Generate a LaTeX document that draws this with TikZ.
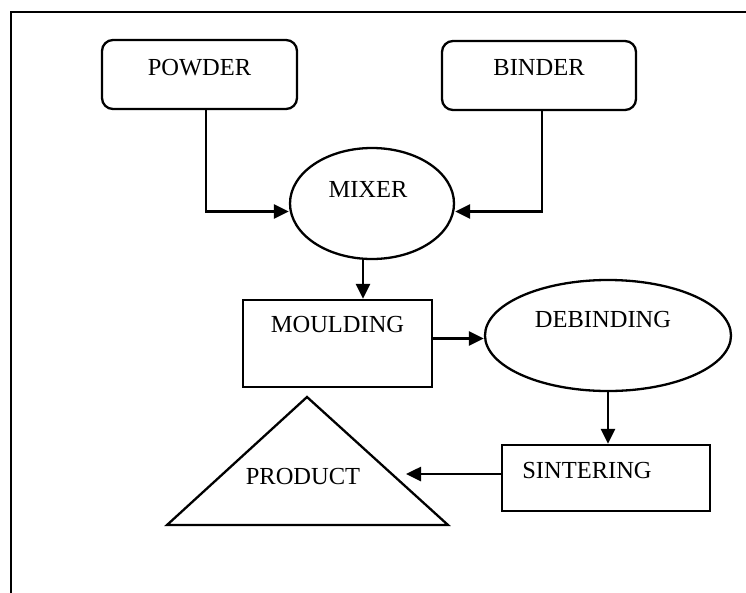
\documentclass[tikz,border=0pt]{standalone}
\usepackage{fontspec}
\setmainfont{Liberation Serif}
\usetikzlibrary{shapes.geometric,arrows.meta}
\begin{document}
\begin{tikzpicture}[x=1pt,y=-1pt,
  line width=2.3pt,
  lbl/.style={inner sep=0pt,font=\fontsize{24.5}{28}\selectfont},
  roundbox/.style={draw,rounded corners=11pt,inner sep=0pt},
  plainbox/.style={draw,rectangle,inner sep=0pt},
  oval/.style={draw,ellipse,inner sep=0pt},
  arr/.style={line width=2.6pt,-{Triangle[length=15pt,width=14pt]},line join=miter}]
\useasboundingbox (0,0) rectangle (746,592);
% outer frame (only the left and top edges fall inside the page)
\draw[line join=miter,line width=2.4pt] (11,600) -- (11,12) -- (750,12);

% shapes
\node[roundbox,minimum width=195pt,minimum height=69pt] (powder) at (199.5,74.5) {};
\node[roundbox,minimum width=194pt,minimum height=69pt] (binder) at (539,75.5) {};
\node[oval,minimum width=164pt,minimum height=111pt] (mixer) at (372,203.5) {};
\node[plainbox,minimum width=189pt,minimum height=87pt] (moulding) at (337.5,343.5) {};
\node[oval,minimum width=246pt,minimum height=111pt] (debinding) at (608,335.5) {};
\node[plainbox,minimum width=208pt,minimum height=66pt] (sinter) at (606,478) {};
\coordinate (apex) at (307,397);
\coordinate (baseL) at (167,525);
\coordinate (baseR) at (448,525);
\draw[line join=miter] (apex) -- (baseR) -- (baseL) -- cycle;
\coordinate (prodin) at (406,474);

% labels
\node[lbl] (powdertxt) at (199.5,68) {POWDER};
\node[lbl] (bindertxt) at (539,68) {BINDER};
\node[lbl] (mixertxt) at (368,189) {MIXER};
\node[lbl] (mouldingtxt) at (337.5,325) {MOULDING};
\node[lbl] (debindingtxt) at (603,320) {DEBINDING};
\node[lbl] (sintertxt) at (587,470) {SINTERING};
\node[lbl] (product) at (303,476) {PRODUCT};

% connectors
\draw[arr] ([xshift=6.5pt]powder.south) |- ([yshift=-8pt]mixer.west);
\draw[arr] ([xshift=3pt]binder.south) |- ([yshift=-8pt]mixer.east);
\draw[arr] ([xshift=-9pt]mixer.south) -- ([xshift=-9pt]mixer.south |- moulding.north);
\draw[arr] ([yshift=5pt]moulding.east) -- ([yshift=-3pt]debinding.west);
\draw[arr] (debinding.south) -- (debinding.south |- sinter.north);
\draw[arr] (prodin -| sinter.west) -- (prodin);
\end{tikzpicture}
\end{document}
